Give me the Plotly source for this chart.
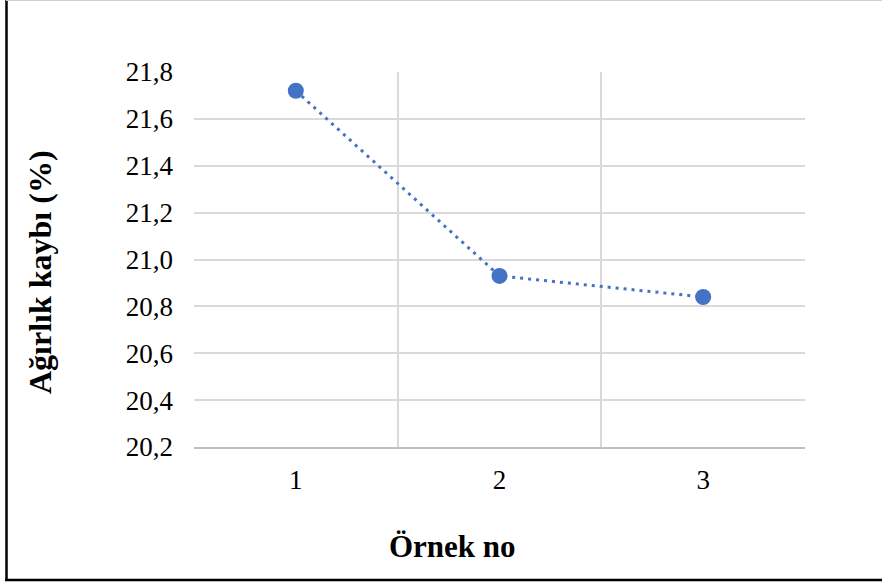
import plotly.graph_objects as go

# Sample numbers and measured weight loss (%)
samples = ["1", "2", "3"]
weight_loss = [21.72, 20.93, 20.84]
y_ticks = [20.2, 20.4, 20.6, 20.8, 21.0, 21.2, 21.4, 21.6, 21.8]

W, H = 882, 583
L, R, T, B = 194, 77, 72, 136
pw, ph = W - L - R, H - T - B

def px_x(x):
    return (x - L) / pw

def px_y(y):
    return (H - B - y) / ph

blue = "#4472C4"
serif = "Times New Roman, Liberation Serif, DejaVu Serif, serif"

fig = go.Figure()
fig.add_trace(go.Scatter(
    x=samples, y=weight_loss, mode="lines+markers",
    line=dict(color=blue, width=3, dash="3px,5px"),
    marker=dict(color=blue, size=16, symbol="circle"),
    showlegend=False, cliponaxis=False,
))

fig.update_layout(
    width=W, height=H,
    margin=dict(l=L, r=R, t=T, b=B),
    paper_bgcolor="white", plot_bgcolor="white",
    separators=",.",
    font=dict(family=serif, color="black"),
    xaxis=dict(
        type="category", tickson="boundaries", range=[-0.5, 2.5],
        showgrid=True, gridcolor="#D9D9D9", gridwidth=1.5,
        showline=True, linecolor="#BFBFBF", linewidth=1.5,
        ticks="", tickfont=dict(size=27, family=serif, color="black"),
        ticklabelstandoff=8,
        zeroline=False,
    ),
    yaxis=dict(
        range=[20.2, 21.8], tickvals=y_ticks, tickformat=".1f",
        showgrid=True, gridcolor="#D9D9D9", gridwidth=1.5,
        showline=False, zeroline=False,
        ticks="", tickfont=dict(size=27, family=serif, color="black"),
        ticklabelstandoff=20,
    ),
    annotations=[
        dict(text="<b>Örnek no</b>", xref="paper", yref="paper",
             x=px_x(452), y=px_y(546), xanchor="center", yanchor="middle",
             showarrow=False, font=dict(size=31, family=serif, color="black")),
        dict(text="<b>Ağırlık kaybı (%)</b>", xref="paper", yref="paper",
             x=px_x(40), y=px_y(272), xanchor="center", yanchor="middle",
             textangle=-90, showarrow=False,
             font=dict(size=32, family=serif, color="black")),
    ],
    shapes=[
        # chart frame
        dict(type="line", xref="paper", yref="paper",
             x0=px_x(6.5), x1=px_x(6.5), y0=px_y(0), y1=px_y(580),
             line=dict(color="black", width=2.5)),
        dict(type="line", xref="paper", yref="paper",
             x0=px_x(5), x1=px_x(882), y0=px_y(580), y1=px_y(580),
             line=dict(color="black", width=2.5)),
        dict(type="line", xref="paper", yref="paper",
             x0=px_x(6), x1=px_x(882), y0=px_y(0.5), y1=px_y(0.5),
             line=dict(color="#D0D0D0", width=1)),
    ],
)

fig.write_html("out.html")
